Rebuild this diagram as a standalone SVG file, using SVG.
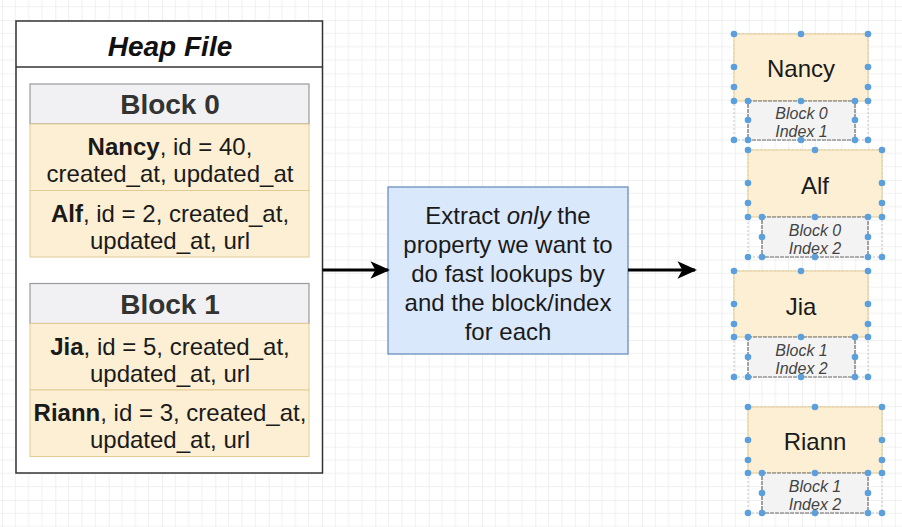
<svg xmlns="http://www.w3.org/2000/svg" width="902" height="527" viewBox="0 0 902 527">
<defs>
<pattern id="grid" x="2" y="20" width="53.333" height="53.333" patternUnits="userSpaceOnUse">
<path d="M13.333 0V53.333M26.667 0V53.333M40 0V53.333M0 13.333H53.333M0 26.667H53.333M0 40H53.333" stroke="#f0f0f0" stroke-width="1" fill="none"/>
<path d="M0 0V53.333M0 0H53.333" stroke="#e4e4e4" stroke-width="1.2" fill="none"/>
</pattern>
<marker id="arr" viewBox="0 0 10 10" refX="9" refY="5" markerWidth="6.5" markerHeight="6.5" orient="auto" markerUnits="strokeWidth">
<path d="M0 0.5L10 5L0 9.5L2.5 5Z" fill="#000"/>
</marker>
<style>
text{font-family:"Liberation Sans",Arial,sans-serif;}
.row{fill:#fcefd4;stroke:#e3cb93;stroke-width:1;}
.hdr{fill:#f1f1f3;stroke:#9a9a9a;stroke-width:1.2;}
.rt{font-size:24px;fill:#1a1a1a;text-anchor:middle;}
.ht{font-size:28px;font-weight:bold;fill:#333;text-anchor:middle;}
.nm{font-size:24px;fill:#1a1a1a;text-anchor:middle;}
.sub{fill:#f3f3f3;stroke:#6b6b6b;stroke-width:1.2;stroke-dasharray:4 1;}
.st{font-size:16px;font-style:italic;fill:#444;text-anchor:middle;}
.grp{fill:none;stroke:#c4c4c4;stroke-width:1;stroke-dasharray:2 2;}
.d{fill:#5ba0dc;}
.conn{stroke:#000;stroke-width:3;fill:none;marker-end:url(#arr);}
</style>
</defs>
<rect width="902" height="527" fill="#ffffff"/>
<rect width="902" height="527" fill="url(#grid)"/>

<g id="heap-file">
<rect x="16" y="21" width="306.5" height="452" fill="#fff" stroke="#333" stroke-width="1.5"/>
<line x1="16" y1="67" x2="322.5" y2="67" stroke="#333" stroke-width="1.5"/>
<text x="170" y="56" font-size="28" font-weight="bold" font-style="italic" text-anchor="middle" fill="#111">Heap File</text>
</g>

<g id="block0">
<rect class="hdr" x="30" y="84" width="279" height="40"/>
<text class="ht" x="170" y="114">Block 0</text>
</g>
<g id="row-nancy">
<rect class="row" x="30" y="124" width="279" height="66.5"/>
<text class="rt" x="170" y="155"><tspan font-weight="bold">Nancy</tspan>, id = 40,</text>
<text class="rt" x="170" y="182">created_at, updated_at</text>
</g>
<g id="row-alf">
<rect class="row" x="30" y="190.5" width="279" height="66.5"/>
<text class="rt" x="170" y="222"><tspan font-weight="bold">Alf</tspan>, id = 2, created_at,</text>
<text class="rt" x="170" y="249">updated_at, url</text>
</g>

<g id="block1">
<rect class="hdr" x="30" y="283.5" width="279" height="40"/>
<text class="ht" x="170" y="314">Block 1</text>
</g>
<g id="row-jia">
<rect class="row" x="30" y="323.5" width="279" height="66.5"/>
<text class="rt" x="170" y="355"><tspan font-weight="bold">Jia</tspan>, id = 5, created_at,</text>
<text class="rt" x="170" y="382">updated_at, url</text>
</g>
<g id="row-riann">
<rect class="row" x="30" y="390" width="279" height="66.5"/>
<text class="rt" x="170" y="421"><tspan font-weight="bold">Riann</tspan>, id = 3, created_at,</text>
<text class="rt" x="170" y="448">updated_at, url</text>
</g>

<g id="extract">
<rect x="388" y="187" width="240" height="167" fill="#dae8fc" stroke="#6c8ebf" stroke-width="1.3"/>
<text x="508" y="224" font-size="24" text-anchor="middle" fill="#1a1a1a">Extract <tspan font-style="italic">only</tspan> the</text>
<text x="508" y="253" font-size="24" text-anchor="middle" fill="#1a1a1a">property we want to</text>
<text x="508" y="282" font-size="24" text-anchor="middle" fill="#1a1a1a">do fast lookups by</text>
<text x="508" y="311" font-size="24" text-anchor="middle" fill="#1a1a1a">and the block/index</text>
<text x="508" y="340" font-size="24" text-anchor="middle" fill="#1a1a1a">for each</text>
</g>

<g id="connectors">
<line class="conn" x1="322.5" y1="270" x2="388" y2="270"/>
<line class="conn" x1="628" y1="270" x2="695" y2="270"/>
</g>

<g id="idx-nancy">
<rect class="grp" x="734" y="34" width="134" height="106"/>
<rect class="row" x="734" y="34" width="134" height="67"/>
<text class="nm" x="801" y="77">Nancy</text>
<rect class="sub" x="748" y="101" width="107" height="39"/>
<text class="st" x="801.5" y="119">Block 0</text>
<text class="st" x="801.5" y="137">Index 1</text>
<g class="d">
<circle cx="734" cy="34" r="3.3"/><circle cx="801" cy="34" r="3.3"/><circle cx="868" cy="34" r="3.3"/>
<circle cx="734" cy="67" r="3.3"/><circle cx="868" cy="67" r="3.3"/>
<circle cx="734" cy="87" r="3.3"/><circle cx="868" cy="87" r="3.3"/>
<circle cx="734" cy="101" r="3.3"/><circle cx="748" cy="101" r="3.3"/><circle cx="801" cy="101" r="3.3"/><circle cx="855" cy="101" r="3.3"/><circle cx="868" cy="101" r="3.3"/>
<circle cx="748" cy="120" r="3.3"/><circle cx="855" cy="120" r="3.3"/>
<circle cx="734" cy="140" r="3.3"/><circle cx="748" cy="140" r="3.3"/><circle cx="801" cy="140" r="3.3"/><circle cx="855" cy="140" r="3.3"/><circle cx="868" cy="140" r="3.3"/>
</g>
</g>

<g id="idx-alf">
<rect class="grp" x="748" y="150" width="134" height="107"/>
<rect class="row" x="748" y="150" width="134" height="67"/>
<text class="nm" x="815" y="194">Alf</text>
<rect class="sub" x="762" y="217" width="106" height="40"/>
<text class="st" x="815" y="236">Block 0</text>
<text class="st" x="815" y="254">Index 2</text>
<g class="d">
<circle cx="748" cy="150" r="3.3"/><circle cx="815" cy="150" r="3.3"/><circle cx="882" cy="150" r="3.3"/>
<circle cx="748" cy="183" r="3.3"/><circle cx="882" cy="183" r="3.3"/>
<circle cx="748" cy="203" r="3.3"/><circle cx="882" cy="203" r="3.3"/>
<circle cx="748" cy="217" r="3.3"/><circle cx="762" cy="217" r="3.3"/><circle cx="815" cy="217" r="3.3"/><circle cx="868" cy="217" r="3.3"/><circle cx="882" cy="217" r="3.3"/>
<circle cx="762" cy="237" r="3.3"/><circle cx="868" cy="237" r="3.3"/>
<circle cx="748" cy="257" r="3.3"/><circle cx="762" cy="257" r="3.3"/><circle cx="815" cy="257" r="3.3"/><circle cx="868" cy="257" r="3.3"/><circle cx="882" cy="257" r="3.3"/>
</g>
</g>

<g id="idx-jia">
<rect class="grp" x="734" y="271" width="134" height="106"/>
<rect class="row" x="734" y="271" width="134" height="66"/>
<text class="nm" x="801" y="315">Jia</text>
<rect class="sub" x="748" y="337" width="107" height="40"/>
<text class="st" x="801.5" y="356">Block 1</text>
<text class="st" x="801.5" y="374">Index 2</text>
<g class="d">
<circle cx="734" cy="271" r="3.3"/><circle cx="801" cy="271" r="3.3"/><circle cx="868" cy="271" r="3.3"/>
<circle cx="734" cy="304" r="3.3"/><circle cx="868" cy="304" r="3.3"/>
<circle cx="734" cy="324" r="3.3"/><circle cx="868" cy="324" r="3.3"/>
<circle cx="734" cy="337" r="3.3"/><circle cx="748" cy="337" r="3.3"/><circle cx="801" cy="337" r="3.3"/><circle cx="855" cy="337" r="3.3"/><circle cx="868" cy="337" r="3.3"/>
<circle cx="748" cy="357" r="3.3"/><circle cx="855" cy="357" r="3.3"/>
<circle cx="734" cy="377" r="3.3"/><circle cx="748" cy="377" r="3.3"/><circle cx="801" cy="377" r="3.3"/><circle cx="855" cy="377" r="3.3"/><circle cx="868" cy="377" r="3.3"/>
</g>
</g>

<g id="idx-riann">
<rect class="grp" x="748" y="407" width="134" height="106"/>
<rect class="row" x="748" y="407" width="134" height="66"/>
<text class="nm" x="815" y="450">Riann</text>
<rect class="sub" x="762" y="473" width="106" height="40"/>
<text class="st" x="815" y="492">Block 1</text>
<text class="st" x="815" y="510">Index 2</text>
<g class="d">
<circle cx="748" cy="407" r="3.3"/><circle cx="815" cy="407" r="3.3"/><circle cx="882" cy="407" r="3.3"/>
<circle cx="748" cy="440" r="3.3"/><circle cx="882" cy="440" r="3.3"/>
<circle cx="748" cy="460" r="3.3"/><circle cx="882" cy="460" r="3.3"/>
<circle cx="748" cy="473" r="3.3"/><circle cx="762" cy="473" r="3.3"/><circle cx="815" cy="473" r="3.3"/><circle cx="868" cy="473" r="3.3"/><circle cx="882" cy="473" r="3.3"/>
<circle cx="762" cy="493" r="3.3"/><circle cx="868" cy="493" r="3.3"/>
<circle cx="748" cy="513" r="3.3"/><circle cx="762" cy="513" r="3.3"/><circle cx="815" cy="513" r="3.3"/><circle cx="868" cy="513" r="3.3"/><circle cx="882" cy="513" r="3.3"/>
</g>
</g>
</svg>
